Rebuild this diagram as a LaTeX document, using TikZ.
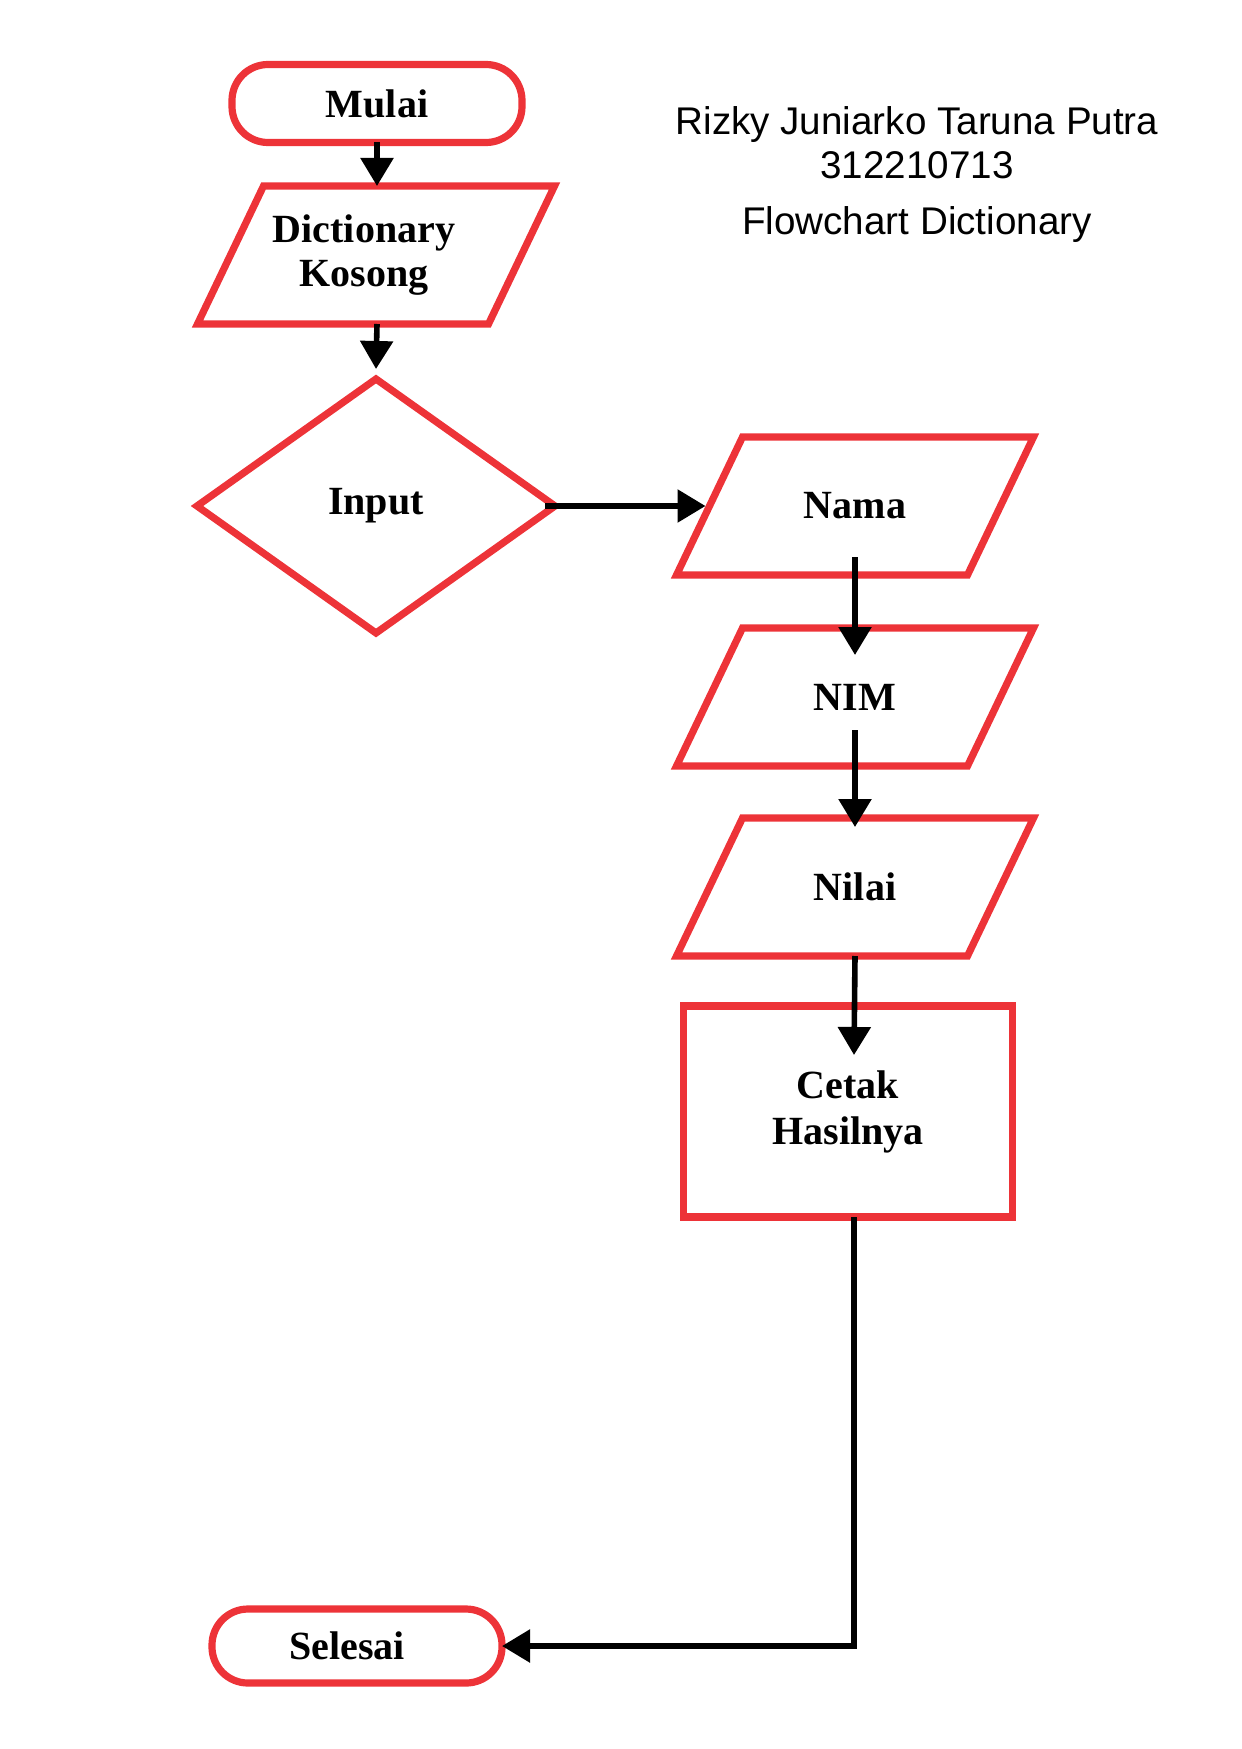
\documentclass[tikz,border=0pt]{standalone}
\usepackage{fontspec}
\setmainfont{Liberation Serif}
\newfontfamily\titlefont{Liberation Sans}
\usetikzlibrary{shapes.geometric,arrows.meta}
\definecolor{flowred}{RGB}{237,51,56}

\begin{document}
\begin{tikzpicture}[x=0.5pt,y=-0.5pt,
  outline/.style={draw=flowred, line width=3.6pt},
  box/.style={outline, outer sep=0pt, inner sep=0pt,
    font=\fontsize{20}{22}\selectfont\bfseries, align=center},
  terminal/.style={box, rectangle, rounded corners=18pt,
    minimum width=145pt, minimum height=39pt},
  % input/output box: the node is the central body, the slanted outline is drawn around it
  io/.style={box, draw=none, rectangle, minimum width=145.5pt, minimum height=69pt,
    append after command={\pgfextra{%
      \draw[outline] ([xshift=16.5pt]\tikzlastnode.north west)
        -- ([xshift=16.5pt]\tikzlastnode.north east)
        -- ([xshift=-16.5pt]\tikzlastnode.south east)
        -- ([xshift=-16.5pt]\tikzlastnode.south west) -- cycle;}}},
  decision/.style={box, diamond, minimum width=179pt, minimum height=127pt},
  process/.style={box, rectangle, minimum width=164.5pt, minimum height=105.5pt,
    font=\fontsize{20}{23}\selectfont\bfseries},
  flow/.style={line width=2.8pt, -{Triangle[length=14pt,width=16pt]}},
  title/.style={font=\titlefont\fontsize{19.3}{22}\selectfont, anchor=base}
]
\useasboundingbox (0,0) rectangle (1241,1749);

% flowchart shapes
\node[terminal] (mulai) at (377,103.5) {Mulai};
\node[io] (dict) at (376,255) {Dictionary\hspace*{12pt}\\Kosong\hspace*{12pt}};
\node[decision] (input) at (376,506) {Input};
\node[io] (nama) at (855,506) {Nama};
\node[io] (nim) at (855,697) {NIM};
\node[io] (nilai) at (855,887) {Nilai};
\node[process] (cetak) at (848,1111.5) {Cetak\\Hasilnya};
\node[terminal, minimum width=145pt, minimum height=37pt] (selesai) at (357,1646) {Selesai\hspace*{10pt}};

% connectors
\draw[flow] (mulai.south) -- ([xshift=0.5pt]dict.north);
\draw[flow] ([xshift=0.5pt]dict.south) -- ([yshift=5pt]input.north);
\draw[flow] ([xshift=-5pt]input.east) -- ([xshift=-2pt]nama.west);
\draw[flow] ([yshift=9pt]nama.south) -- ([yshift=-13.5pt]nim.north);
\draw[flow] ([yshift=18pt]nim.south) -- ([yshift=-4.5pt]nilai.north);
\draw[flow] (nilai.south) -- ([shift={(3pt,-24.5pt)}]cetak.north);
\draw[flow] ([xshift=3pt]cetak.south) |- (selesai.east);

% heading
\node[title] (author) at (917,135) {Rizky Juniarko Taruna Putra};
\node[title] (idnum) at (917,179) {312210713};
\node[title] (caption) at (917,235) {Flowchart Dictionary};
\end{tikzpicture}
\end{document}
